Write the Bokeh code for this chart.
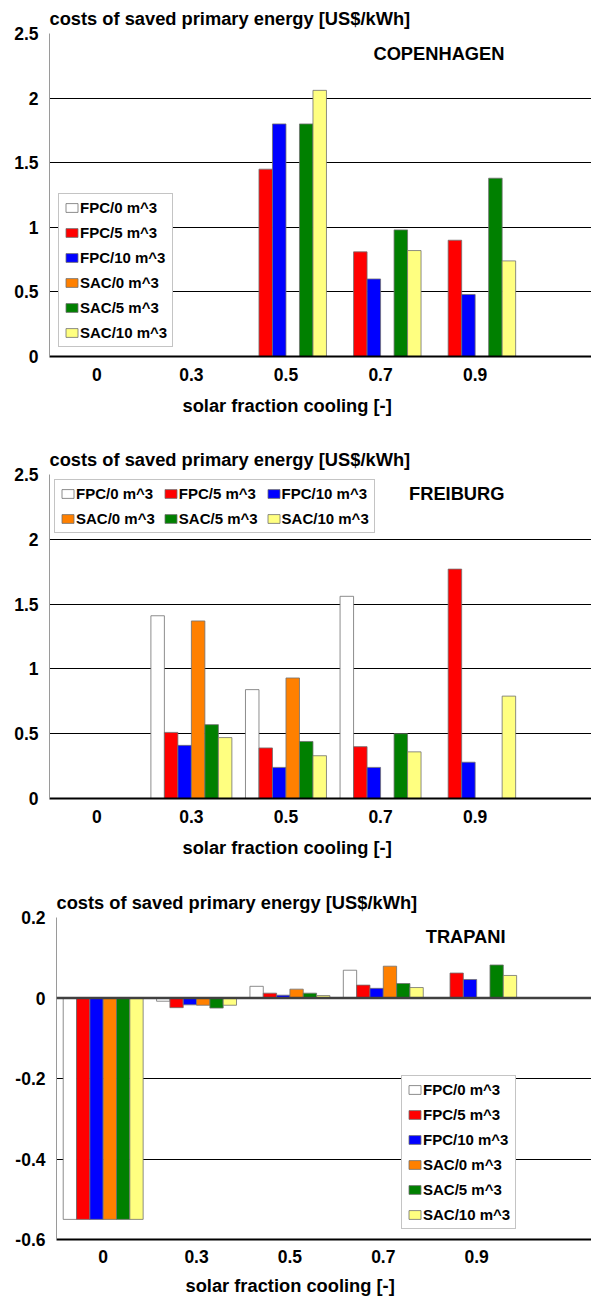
from bokeh.plotting import figure
from bokeh.models import (Legend, LegendItem, Label, Span, FixedTicker,
                          CustomJSTickFormatter, ColumnDataSource, Title)
from bokeh.layouts import column
from bokeh.transform import dodge
from bokeh.embed import file_html
from bokeh.resources import INLINE

# solar fraction cooling categories
fractions = ["0", "0.3", "0.5", "0.7", "0.9"]
series_names = ["FPC/0 m^3", "FPC/5 m^3", "FPC/10 m^3", "SAC/0 m^3", "SAC/5 m^3", "SAC/10 m^3"]
series_colors = ["#FFFFFF", "#FF0000", "#0000FF", "#FF8000", "#008000", "#FFFF80"]

# costs of saved primary energy [US$/kWh], one list per collector / storage variant
copenhagen_fpc0 = [0, 0, 0, 0, 0]
copenhagen_fpc5 = [0, 0, 1.45, 0.81, 0.90]
copenhagen_fpc10 = [0, 0, 1.80, 0.60, 0.48]
copenhagen_sac0 = [0, 0, 0, 0, 0]
copenhagen_sac5 = [0, 0, 1.80, 0.98, 1.38]
copenhagen_sac10 = [0, 0, 2.06, 0.82, 0.74]

freiburg_fpc0 = [0, 1.41, 0.84, 1.56, 0]
freiburg_fpc5 = [0, 0.51, 0.39, 0.40, 1.77]
freiburg_fpc10 = [0, 0.41, 0.24, 0.24, 0.28]
freiburg_sac0 = [0, 1.37, 0.93, 0, 0]
freiburg_sac5 = [0, 0.57, 0.44, 0.50, 0]
freiburg_sac10 = [0, 0.47, 0.33, 0.36, 0.79]

trapani_fpc0 = [-0.55, -0.008, 0.029, 0.069, 0]
trapani_fpc5 = [-0.55, -0.024, 0.012, 0.032, 0.062]
trapani_fpc10 = [-0.55, -0.017, 0.007, 0.024, 0.046]
trapani_sac0 = [-0.55, -0.018, 0.022, 0.079, 0]
trapani_sac5 = [-0.55, -0.025, 0.012, 0.036, 0.082]
trapani_sac10 = [-0.55, -0.018, 0.006, 0.026, 0.056]

FONT = "Liberation Sans"
BAR_W = 0.1427


def make_panel(city, values, y_range, y_ticks, height, top, bottom, left,
               legend_loc, legend_horizontal, city_y, xtitle_offset,
               tick_standoff=11, xtitle_standoff=18):
    p = figure(width=591, height=height, x_range=(-0.5, 5.23), y_range=y_range,
               output_backend="svg", toolbar_location=None,
               min_border_top=top, min_border_bottom=bottom,
               min_border_left=left, min_border_right=0)
    p.frame_align = False
    p.background_fill_color = "white"
    p.border_fill_color = "white"
    p.outline_line_color = None

    p.title.text = "costs of saved primary energy [US$/kWh]"
    p.title.align = "left"
    p.title.text_font = FONT
    p.title.text_font_style = "bold"
    p.title.text_font_size = "18.3px"
    p.title.text_color = "black"
    p.title.standoff = 9

    data = {"x": list(range(len(fractions)))}
    for i, v in enumerate(values):
        data[f"s{i}"] = v
    src = ColumnDataSource(data)

    renderers = []
    for i, name in enumerate(series_names):
        off = (i - 2.5) * BAR_W
        r = p.vbar(x=dodge("x", off, range=p.x_range), top=f"s{i}", bottom=0,
                   width=BAR_W, source=src, fill_color=series_colors[i],
                   line_color="#707070", line_width=0.8)
        renderers.append(r)

    # horizontal gridlines
    p.xgrid.visible = False
    p.ygrid.ticker = FixedTicker(ticks=y_ticks)
    p.ygrid.grid_line_color = "black"
    p.ygrid.grid_line_width = 1.2

    # y axis
    p.yaxis.ticker = FixedTicker(ticks=y_ticks)
    p.yaxis.formatter = CustomJSTickFormatter(
        code="return (Math.round(tick * 10) / 10).toString();")
    p.yaxis.major_tick_out = 0
    p.yaxis.major_tick_in = 0
    p.yaxis.minor_tick_out = 0
    p.yaxis.minor_tick_in = 0
    p.yaxis.axis_line_color = "#9a9a9a"
    p.yaxis.axis_line_width = 1
    p.yaxis.major_label_standoff = 11
    p.yaxis.major_label_text_font = FONT
    p.yaxis.major_label_text_font_style = "bold"
    p.yaxis.major_label_text_font_size = "17.5px"
    p.yaxis.major_label_text_color = "black"

    # x axis
    p.xaxis.ticker = FixedTicker(ticks=list(range(len(fractions))))
    p.xaxis.major_label_overrides = {i: f for i, f in enumerate(fractions)}
    p.xaxis.major_tick_out = 0
    p.xaxis.major_tick_in = 0
    p.xaxis.minor_tick_out = 0
    p.xaxis.minor_tick_in = 0
    p.xaxis.axis_line_color = "black"
    p.xaxis.axis_line_width = 2
    p.xaxis.major_label_standoff = tick_standoff
    p.xaxis.major_label_text_font = FONT
    p.xaxis.major_label_text_font_style = "bold"
    p.xaxis.major_label_text_font_size = "17.5px"
    p.xaxis.major_label_text_color = "black"

    # axis title below the tick labels, centred under the category groups
    xtitle = Title(text="solar fraction cooling [-]", align="left",
                   offset=xtitle_offset, standoff=xtitle_standoff,
                   text_font=FONT, text_font_style="bold",
                   text_font_size="18.3px", text_color="black")
    p.add_layout(xtitle, "below")

    if y_range[0] < 0:
        p.add_layout(Span(location=0, dimension="width", line_color="#404040",
                          line_width=2.5))

    p.add_layout(Label(x=4.31, y=city_y, text=city, text_align="right",
                       text_baseline="middle", text_font=FONT,
                       text_font_style="bold", text_font_size="18.3px",
                       text_color="black"))

    items = [LegendItem(label=n, renderers=[r]) for n, r in zip(series_names, renderers)]
    leg = Legend(items=items, location=legend_loc)
    leg.label_text_font = FONT
    leg.label_text_font_style = "bold"
    leg.label_text_font_size = "15px"
    leg.label_text_color = "black"
    leg.glyph_width = 15
    leg.glyph_height = 11
    leg.label_standoff = 1
    leg.label_height = 11
    leg.padding = 5
    leg.margin = 0
    leg.border_line_color = "#8a8a8a"
    leg.border_line_width = 1
    leg.background_fill_color = "white"
    leg.background_fill_alpha = 1
    if legend_horizontal:
        leg.orientation = "horizontal"
        leg.ncols = 3
        leg.spacing = 8
    else:
        leg.spacing = 8
    p.add_layout(leg)
    return p


p1 = make_panel("COPENHAGEN",
                [copenhagen_fpc0, copenhagen_fpc5, copenhagen_fpc10,
                 copenhagen_sac0, copenhagen_sac5, copenhagen_sac10],
                (0, 2.5), [0, 0.5, 1, 1.5, 2, 2.5], 440, 33, 84, 49,
                (9, 9), False, 2.345, 133)
p2 = make_panel("FREIBURG",
                [freiburg_fpc0, freiburg_fpc5, freiburg_fpc10,
                 freiburg_sac0, freiburg_sac5, freiburg_sac10],
                (0, 2.5), [0, 0.5, 1, 1.5, 2, 2.5], 442, 34, 84, 49,
                (5, 265), True, 2.353, 133)
p3 = make_panel("TRAPANI",
                [trapani_fpc0, trapani_fpc5, trapani_fpc10,
                 trapani_sac0, trapani_sac5, trapani_sac10],
                (-0.6, 0.2), [-0.6, -0.4, -0.2, 0, 0.2], 420, 35, 63, 56,
                (345, 10), False, 0.1516, 129,
                tick_standoff=10, xtitle_standoff=14)

layout = column(p1, p2, p3, spacing=0)
open("out.html", "w").write(file_html(layout, INLINE))
